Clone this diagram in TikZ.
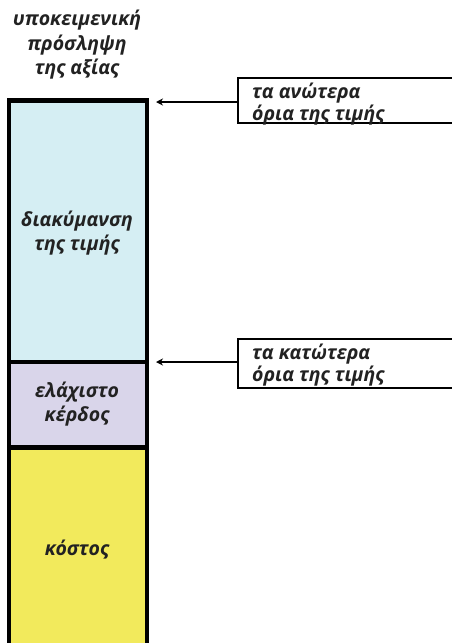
\documentclass[tikz,border=0pt]{standalone}
\usepackage{fontspec}
\setmainfont{Open Sans}
\usetikzlibrary{arrows.meta}

\definecolor{bandblue}{HTML}{D5EEF3}
\definecolor{bandlilac}{HTML}{D9D5EA}
\definecolor{bandyellow}{HTML}{F2EA5C}
\definecolor{inktext}{HTML}{222222}

\tikzset{
  band/.style={draw=black, line width=4.5pt},
  bandlabel/.style={font=\fontsize{19.5}{24.5}\selectfont\bfseries\itshape,
    text=inktext, align=center, inner sep=0pt},
  callout/.style={draw=black, line width=2pt, fill=white},
  calloutlabel/.style={font=\fontsize{19.5}{18.5}\selectfont\bfseries\itshape,
    text=inktext, align=left, inner sep=0pt, anchor=west},
  pointer/.style={line width=2pt, -{Stealth[length=7pt,width=7pt]}}
}

\begin{document}
\begin{tikzpicture}[x=1pt,y=-1pt]
  \useasboundingbox (0,0) rectangle (452,643);
  \clip (0,0) rectangle (452,643);

  % stacked price column
  \draw[band, fill=bandyellow] (9,447.5) rectangle (147,660);
  \draw[band, fill=bandlilac] (9,362) rectangle (147,447.5);
  \draw[band, fill=bandblue] (9,100.5) rectangle (147,362);

  % column heading and band labels
  \node[bandlabel] (heading) at (77,45) {υποκειμενική\\πρόσληψη\\της αξίας};
  \node[bandlabel] (range) at (77,233) {διακύμανση\\της τιμής};
  \node[bandlabel] (profit) at (77,404) {ελάχιστο\\κέρδος};
  \node[bandlabel] (cost) at (77,550) {κόστος};

  % callout boxes for the price limits
  \draw[callout] (238,78) rectangle (470,122.5);
  \coordinate (upperleft) at (238,102);
  \node[calloutlabel] (upper) at (252,104) {τα ανώτερα\\όρια της τιμής};

  \draw[callout] (238,339) rectangle (470,387.5);
  \coordinate (lowerleft) at (238,362);
  \node[calloutlabel] (lower) at (252,365) {τα κατώτερα\\όρια της τιμής};

  % pointers to the column edges
  \coordinate (uppertip) at (156,102);
  \coordinate (lowertip) at (156,362);
  \draw[pointer] (upperleft) -- (uppertip);
  \draw[pointer] (lowerleft) -- (lowertip);
\end{tikzpicture}
\end{document}
